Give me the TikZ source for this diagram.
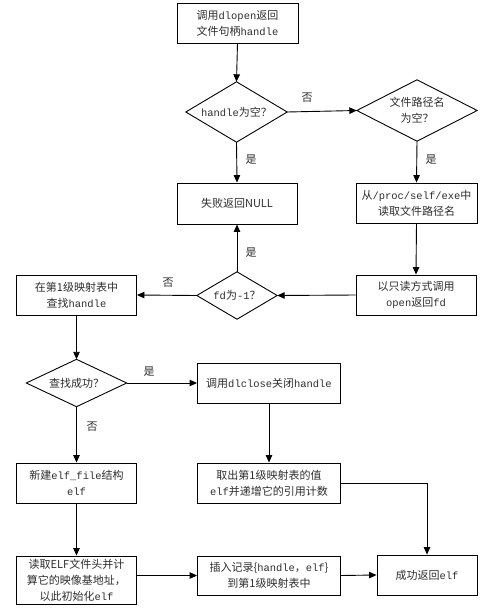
\documentclass[tikz,border=0pt]{standalone}
\usepackage{fontspec}
\setmainfont{Noto Sans CJK SC}
\setmonofont{Liberation Mono}[Scale=0.95]
\usetikzlibrary{arrows.meta}
\newcommand{\m}[1]{\texttt{#1}}
\definecolor{txt}{RGB}{45,45,45}
\begin{document}
\begin{tikzpicture}[x=1pt,y=-1pt,
  every node/.style={font=\fontsize{11}{16}\selectfont,text=txt},
  box/.style={draw,line width=0.9pt,rectangle,align=center,inner sep=0pt},
  dia/.style={rectangle,align=center,inner sep=0pt},
  arr/.style={line width=0.9pt,-{Triangle[length=7.5pt,width=6.5pt]}},
  lab/.style={inner sep=0pt}]
\useasboundingbox (0,0) rectangle (486,608);
% nodes
\node[box,minimum width=121pt,minimum height=40pt] (b1) at (237.5,23) {调用\m{dlopen}返回\\文件句柄\m{handle}};
\node[dia,minimum width=101pt,minimum height=60pt] (d1) at (236.5,112) {\m{handle}为空？};
\node[dia,minimum width=120pt,minimum height=61pt] (d2) at (417,110.5) {文件路径名\\为空？};
\node[box,minimum width=120pt,minimum height=41pt] (bnull) at (237,203.5) {失败返回NULL};
\node[box,minimum width=121pt,minimum height=40pt] (bproc) at (416.5,203) {从\m{/proc/self/exe}中\\读取文件路径名};
\node[dia,minimum width=80pt,minimum height=47pt] (dfd) at (237,295.5) {\m{fd}为\m{-1}？};
\node[box,minimum width=120pt,minimum height=40pt] (bopen) at (416,295) {以只读方式调用\\\m{open}返回\m{fd}};
\node[box,minimum width=120pt,minimum height=40pt] (bfind) at (76.5,295) {在第1级映射表中\\查找\m{handle}};
\node[dia,minimum width=100pt,minimum height=47pt] (dok) at (76.5,383) {查找成功？};
\node[box,minimum width=143pt,minimum height=40pt] (bclose) at (269,383) {调用\m{dlclose}关闭\m{handle}};
\node[box,minimum width=120pt,minimum height=40pt] (bnew) at (76.5,483) {新建\m{elf\_file}结构\\\m{elf}};
\node[box,minimum width=143pt,minimum height=40pt] (bget) at (269,483) {取出第1级映射表的值\\\m{elf}并递增它的引用计数};
\node[box,minimum width=120pt,minimum height=48pt] (bread) at (76.5,580) {读取ELF文件头并计\\算它的映像基地址，\\以此初始化\m{elf}};
\node[box,minimum width=143pt,minimum height=39pt] (bins) at (269,575.5) {插入记录\{\m{handle}，\m{elf}\}\\到第1级映射表中};
\node[box,minimum width=100pt,minimum height=40pt] (bok) at (427,575) {成功返回\m{elf}};
% diamond outlines
\foreach \d in {d1,d2,dfd,dok}
  \draw[line width=0.9pt] (\d.north) -- (\d.east) -- (\d.south) -- (\d.west) -- cycle;
% connectors
\draw[arr] (b1.south) -- (d1.north);
\draw[arr] (d1.east) -- (d2.west);
\draw[arr] (d1.south) -- (bnull.north);
\draw[arr] (d2.south) -- (bproc.north);
\draw[arr] (bproc.south) -- (bopen.north);
\draw[arr] (bopen.west) -- (dfd.east);
\draw[arr] (dfd.north) -- (bnull.south);
\draw[arr] (dfd.west) -- (bfind.east);
\draw[arr] (bfind.south) -- (dok.north);
\draw[arr] (dok.east) -- (bclose.west);
\draw[arr] (dok.south) -- (bnew.north);
\draw[arr] (bclose.south) -- (bget.north);
\draw[arr] (bnew.south) -- (bread.north);
\draw[arr] (bins.west -| bread.east) -- (bins.west);
\draw[arr] (bins.east) -- (bok.west);
\draw[arr] (bget.east) -| (bok.north);
% labels
\node[lab] (l1) at (307,98) {否};
\node[lab] (l2) at (251,160) {是};
\node[lab] (l3) at (431,160) {是};
\node[lab] (l4) at (251,253) {是};
\node[lab] (l5) at (168,283) {否};
\node[lab] (l6) at (149,372) {是};
\node[lab] (l7) at (92,427) {否};
\end{tikzpicture}
\end{document}
